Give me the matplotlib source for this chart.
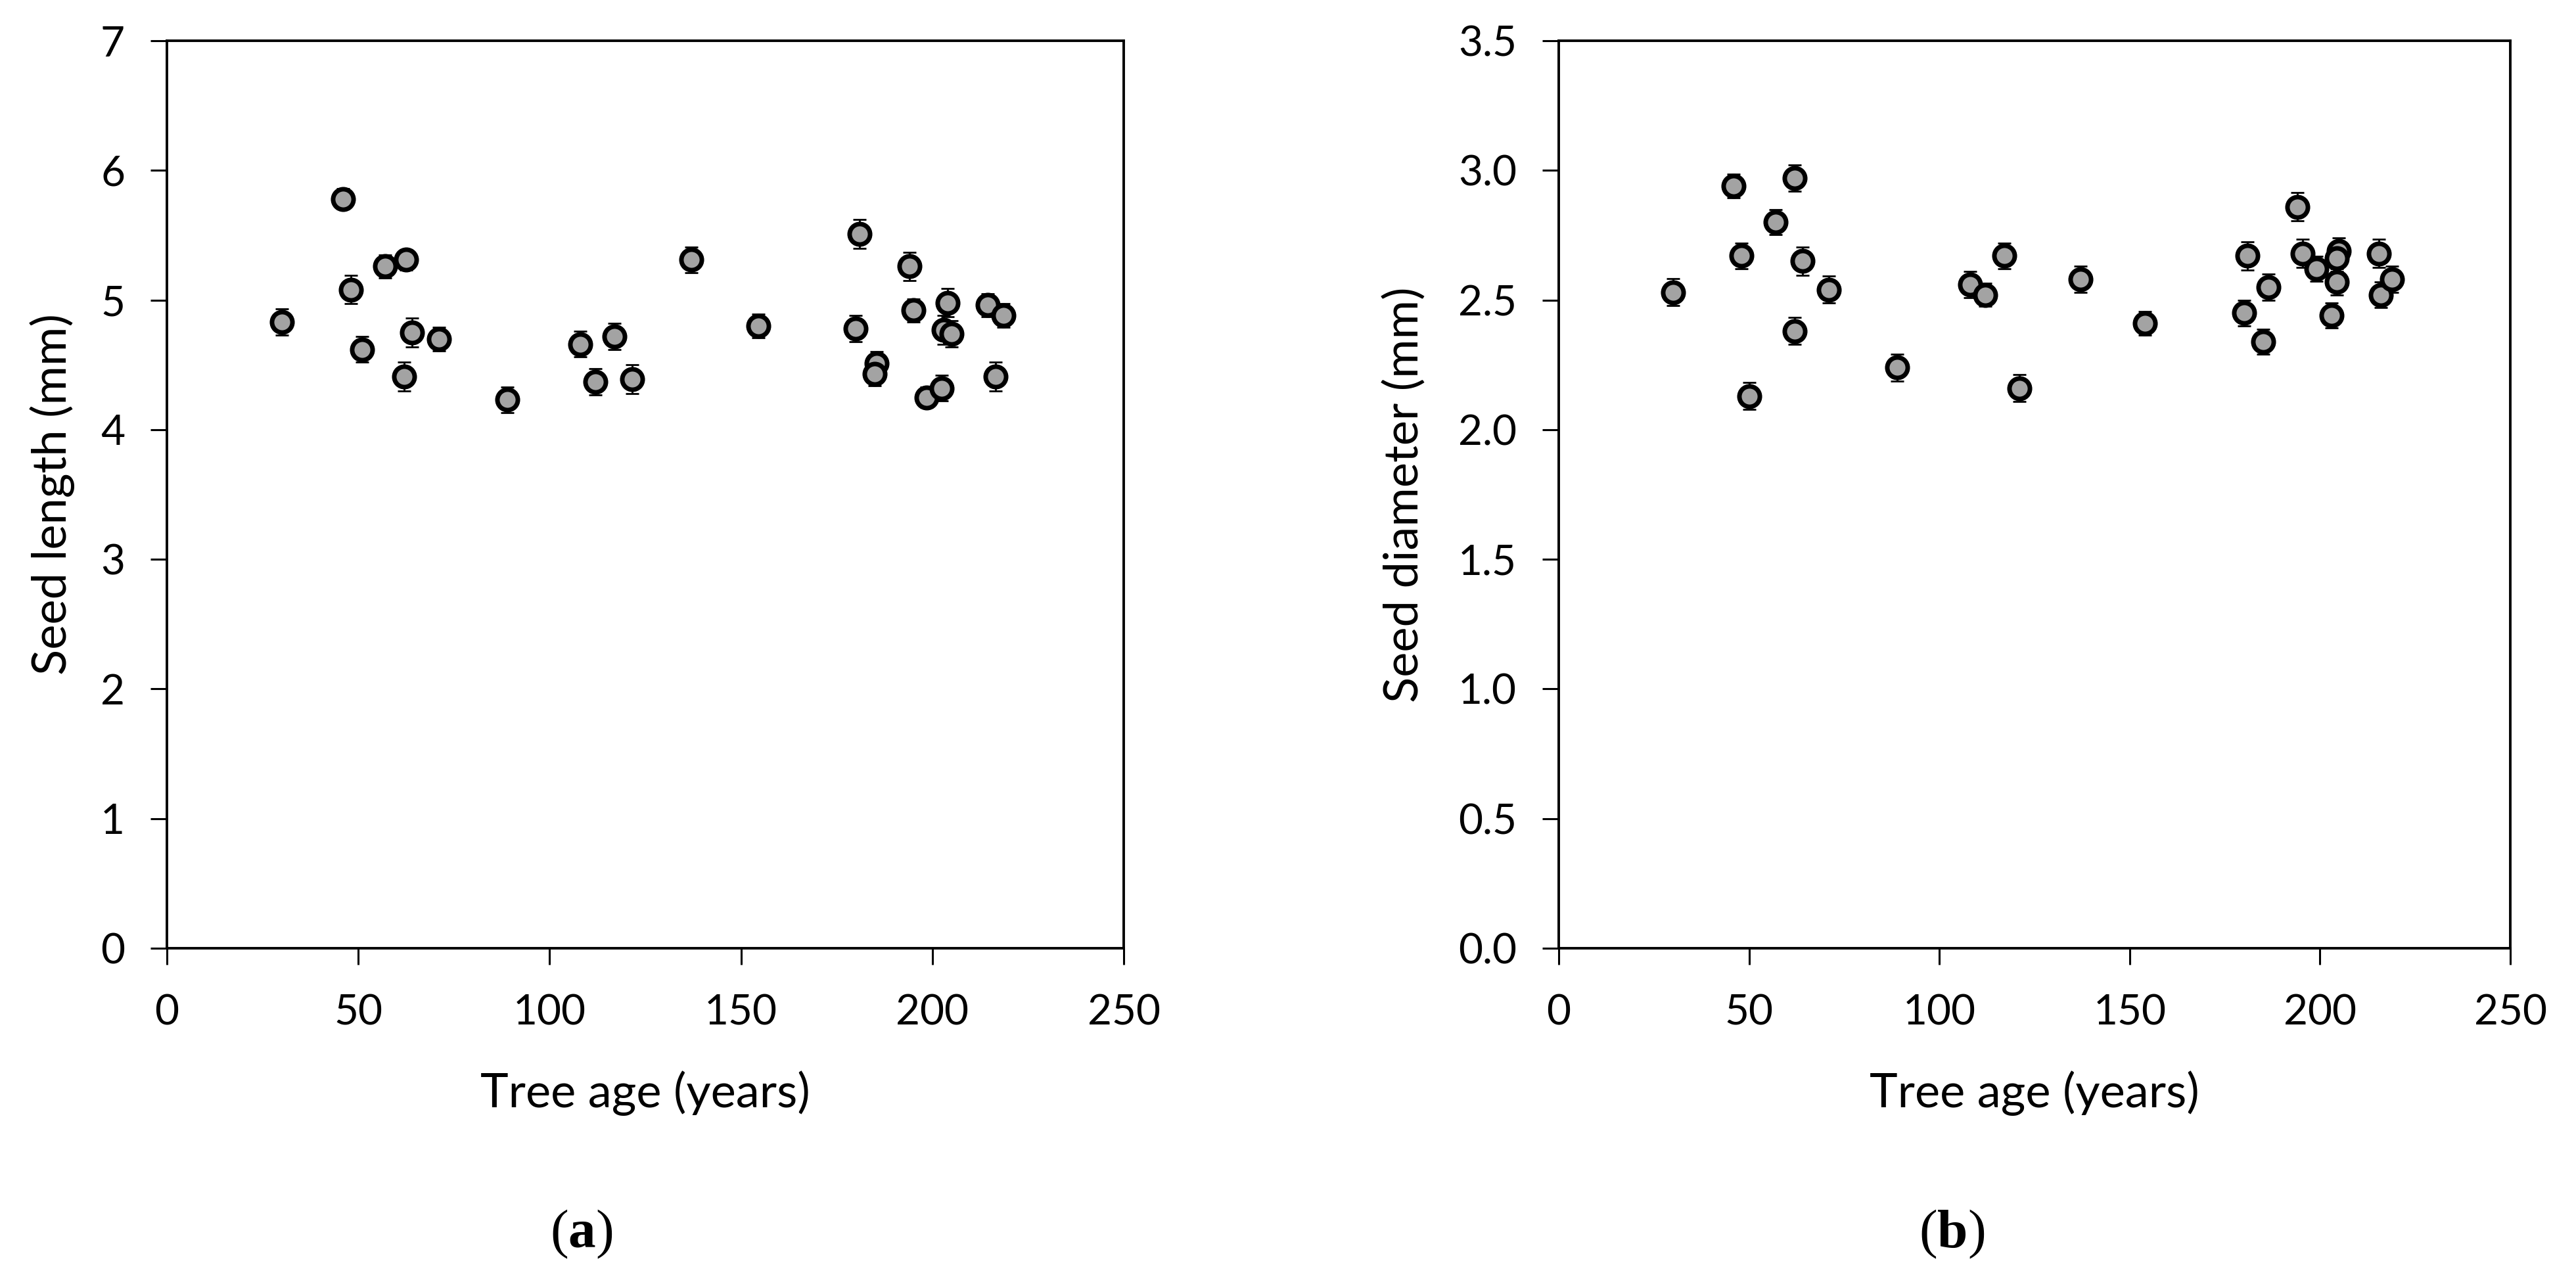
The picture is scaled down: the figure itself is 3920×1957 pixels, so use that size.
import matplotlib
matplotlib.use('Agg')
import matplotlib.pyplot as plt

# tree age (years) and seed length (mm), panel a
age_a = [30, 46, 48, 51, 57, 62.5, 62, 64, 71, 89, 108, 112, 117, 121.5, 137,
         154.5, 181, 180, 185.5, 185, 194, 195, 198.5, 202.5, 204, 203, 205, 214.5, 218.5, 216.5]
length = [4.83, 5.78, 5.08, 4.62, 5.26, 5.31, 4.41, 4.75, 4.70, 4.23, 4.66, 4.37, 4.72, 4.39, 5.31,
          4.80, 5.51, 4.78, 4.51, 4.43, 5.26, 4.92, 4.25, 4.32, 4.98, 4.77, 4.74, 4.96, 4.88, 4.41]
length_err = [0.10, 0.08, 0.11, 0.10, 0.09, 0.08, 0.11, 0.11, 0.09, 0.10, 0.10, 0.10, 0.10, 0.11, 0.10,
              0.09, 0.11, 0.10, 0.09, 0.09, 0.11, 0.09, 0.08, 0.10, 0.11, 0.11, 0.10, 0.09, 0.09, 0.11]

# tree age (years) and seed diameter (mm), panel b
age_b = [30, 46, 48, 50, 57, 62, 62, 64, 71, 89, 108, 112, 117, 121, 137,
         154, 181, 180, 186.5, 185, 194, 195.5, 199, 203, 204.5, 205, 204.5, 215.5, 216, 219]
diameter = [2.53, 2.94, 2.67, 2.13, 2.80, 2.97, 2.38, 2.65, 2.54, 2.24, 2.56, 2.52, 2.67, 2.16, 2.58,
            2.41, 2.67, 2.45, 2.55, 2.34, 2.86, 2.68, 2.62, 2.44, 2.57, 2.69, 2.66, 2.68, 2.52, 2.58]
diameter_err = [0.052, 0.045, 0.05, 0.052, 0.048, 0.05, 0.052, 0.054, 0.052, 0.052, 0.05, 0.045, 0.05, 0.052, 0.05,
                0.045, 0.054, 0.05, 0.05, 0.048, 0.054, 0.054, 0.048, 0.048, 0.05, 0.05, 0.05, 0.054, 0.05, 0.05]

xticks = [0, 50, 100, 150, 200, 250]
yticks_a = [0, 1, 2, 3, 4, 5, 6, 7]
yticks_b = [0.0, 0.5, 1.0, 1.5, 2.0, 2.5, 3.0, 3.5]

plt.rcParams['font.family'] = ['Lato', 'DejaVu Sans']
plt.rcParams['mathtext.fontset'] = 'custom'
plt.rcParams['mathtext.rm'] = 'Liberation Serif'
plt.rcParams['mathtext.bf'] = 'Liberation Serif:bold'

fig = plt.figure(figsize=(19.6, 9.785), dpi=200)
ax1 = fig.add_axes([254 / 3920, 1 - 1443 / 1957, 1456 / 3920, 1381 / 1957])
ax2 = fig.add_axes([2372 / 3920, 1 - 1443 / 1957, 1448 / 3920, 1381 / 1957])


def draw_panel(ax, x, y, err, yticks, ylabel, fmt, ylab_x):
    ax.errorbar(x, y, yerr=err, fmt='none', ecolor='black', elinewidth=1.0,
                capsize=3.5, capthick=1.0, zorder=2)
    ax.plot(x, y, 'o', markersize=11.2, markerfacecolor='#a3a3a3',
            markeredgecolor='black', markeredgewidth=2.5, zorder=3)
    ax.set_xlim(0, 250)
    ax.set_ylim(yticks[0], yticks[-1])
    ax.set_xticks(xticks)
    ax.set_yticks(yticks)
    ax.set_yticklabels([fmt.format(v) for v in yticks])
    for s in ax.spines.values():
        s.set_linewidth(1.4)
    ax.tick_params(axis='both', direction='out', length=9, width=1.1, labelsize=23)
    ax.tick_params(axis='x', pad=16)
    ax.tick_params(axis='y', pad=14)
    ax.set_xlabel('Tree age (years)', fontsize=26)
    ax.xaxis.label.set_va('center')
    ax.xaxis.set_label_coords(0.5, -0.16)
    ax.set_ylabel(ylabel, fontsize=26)
    ax.yaxis.label.set_va('center')
    ax.yaxis.set_label_coords(ylab_x, 0.5)


draw_panel(ax1, age_a, length, length_err, yticks_a, 'Seed length (mm)', '{:.0f}', -0.1195)
draw_panel(ax2, age_b, diameter, diameter_err, yticks_b, 'Seed diameter (mm)', '{:.1f}', -0.162)

fig.text(885 / 3920, 1 - 1878 / 1957, r'($\mathbf{a}$)', fontsize=30,
         family='Liberation Serif', ha='center', va='center')
fig.text(2970 / 3920, 1 - 1878 / 1957, r'($\mathbf{b}$)', fontsize=30,
         family='Liberation Serif', ha='center', va='center')

fig.savefig('out.png', dpi=200, facecolor='white')
